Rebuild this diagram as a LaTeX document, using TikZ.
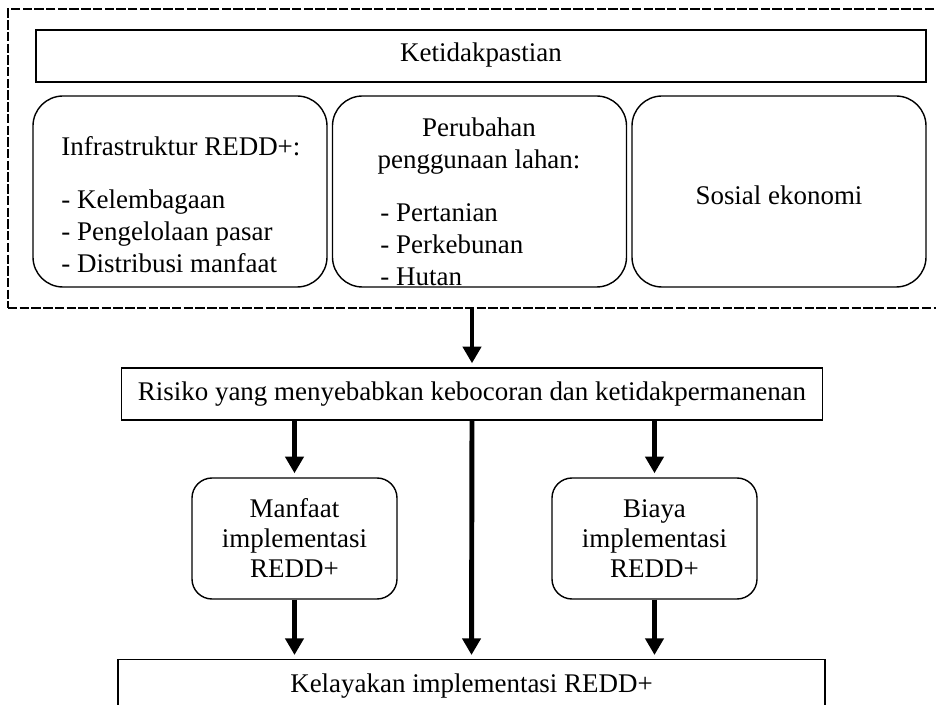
\documentclass[tikz,border=0pt]{standalone}
\usepackage{fontspec}
\setmainfont{Liberation Serif}
\usetikzlibrary{arrows.meta,positioning}

\tikzset{
    plainbox/.style={draw, line width=0.6pt, inner sep=0pt},
    softbox/.style={plainbox, rounded corners=0.45cm},
    bigarrow/.style={-{Triangle[width=0.27cm,length=0.25cm]}, line width=2.1pt, shorten >=0.06cm}
}

\begin{document}
\begin{tikzpicture}[x=0.015cm, y=-0.015cm, font=\fontsize{11.5}{13.6}\selectfont]

    \useasboundingbox (0,0) rectangle (936,705);

    % ---------------- Uncertainty block ----------------
    \node[plainbox, dash pattern=on 4pt off 1pt, minimum width=14.28cm, minimum height=4.485cm] (frame) at (484,158.5) {};
    \node[plainbox, minimum width=13.35cm, minimum height=0.78cm] (ketid) at (481,56) {};
    \node (ketidtext) at (481,55) {Ketidakpastian};

    \node[softbox, minimum width=4.41cm, minimum height=2.865cm] (infra) at (180,191.5) {};
    \node[softbox, minimum width=4.41cm, minimum height=2.865cm] (lahan) at (479.5,191.5) {};
    \node[softbox, minimum width=4.41cm, minimum height=2.865cm] (sosial) at (779,191.5) {};

    \node[anchor=west, align=left, inner sep=0pt] (infratext) at (61,204.5)
        {Infrastruktur REDD+:\\[9pt] - Kelembagaan\\ - Pengelolaan pasar\\ - Distribusi manfaat};
    \node[align=center, inner sep=0pt] (lahantitle) at (479,146) {Perubahan\\penggunaan lahan:};
    \node[anchor=west, align=left, inner sep=0pt] (lahanlist) at (380,245)
        {- Pertanian\\ - Perkebunan\\ - Hutan};
    \node (sosialtext) at (779,195) {Sosial ekonomi};

    % ---------------- Risk ----------------
    \node[plainbox, minimum width=10.515cm, minimum height=0.78cm] (risiko) at (472,394)
        {Risiko yang menyebabkan kebocoran dan ketidakpermanenan};
    \draw[bigarrow] (frame.south -| risiko.north) -- (risiko.north);

    % ---------------- Benefit and cost ----------------
    \node[softbox, rounded corners=0.3cm, align=center, minimum width=3.075cm, minimum height=1.815cm,
          font=\fontsize{11.5}{12.8}\selectfont] (manfaat) at (294.5,538.5) {Manfaat\\implementasi\\REDD+};
    \node[softbox, rounded corners=0.3cm, align=center, minimum width=3.075cm, minimum height=1.815cm,
          font=\fontsize{11.5}{12.8}\selectfont] (biaya) at (654.5,538.5) {Biaya\\implementasi\\REDD+};

    % ---------------- Feasibility ----------------
    \node[plainbox, minimum width=10.605cm, minimum height=1.2cm, anchor=north] (kel) at (471.5,659) {};
    \node (keltext) at (471.5,686) {Kelayakan implementasi REDD+};

    % ---------------- Arrows ----------------
    \foreach \n in {manfaat,biaya} {
        \draw[bigarrow] (risiko.south -| \n.north) -- (\n.north);
        \draw[bigarrow] (\n.south) -- (\n.south |- kel.north);
    }
    \draw[bigarrow] (risiko.south) -- (kel.north);

\end{tikzpicture}
\end{document}
